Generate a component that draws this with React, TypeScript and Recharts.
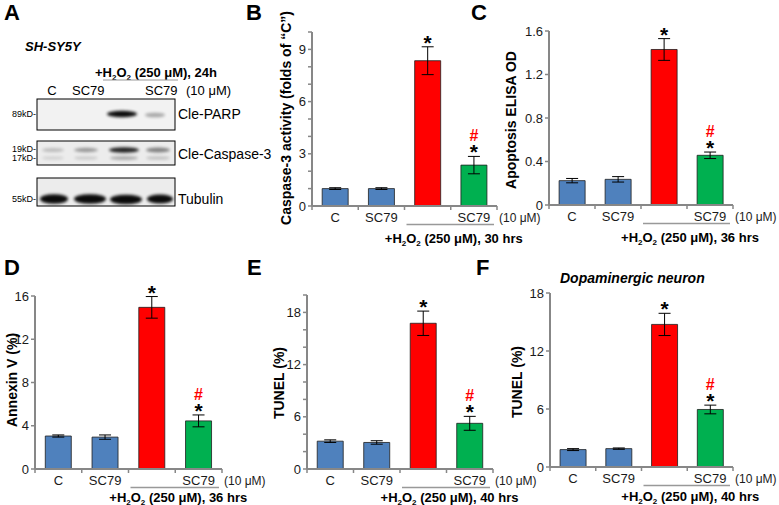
import React from 'react';
import { BarChart, Bar, XAxis, YAxis, ErrorBar, Cell, LabelList } from 'recharts';

// groups shared by every bar panel
const groups = ['C', 'SC79', '', 'SC79'];
const barColors = ['#4f81bd', '#4f81bd', '#ff0000', '#00b050'];
const starMarks = ['', '', '*', '*'];
const hashMarks = ['', '', '', '#'];

// B: caspase-3 activity, 30 hrs
const caspaseValues = [1.0, 1.0, 8.35, 2.35];
const caspaseErrors = [0.05, 0.05, 0.8, 0.5];
const caspaseTicks = [0, 1, 2, 3, 4, 5, 6, 7, 8, 9, 10];
const caspaseLabels = [0, 3, 6, 9];

// C: apoptosis ELISA, 36 hrs
const elisaValues = [0.224, 0.236, 1.43, 0.457];
const elisaErrors = [0.02, 0.025, 0.1, 0.03];
const elisaTicks = [0, 0.4, 0.8, 1.2, 1.6];

// D: annexin V, 36 hrs
const annexinValues = [3.05, 2.95, 14.95, 4.45];
const annexinErrors = [0.1, 0.2, 1.0, 0.55];
const annexinTicks = [0, 4, 8, 12, 16];

// E: TUNEL SH-SY5Y, 40 hrs
const tunelValues = [3.2, 3.05, 16.75, 5.25];
const tunelErrors = [0.15, 0.2, 1.4, 0.8];
const tunelTicks = [0, 2, 4, 6, 8, 10, 12, 14, 16, 18, 20];
const tunelLabels = [0, 6, 12, 18];

// F: TUNEL dopaminergic neurons, 40 hrs
const neuronValues = [1.8, 1.9, 14.75, 5.95];
const neuronErrors = [0.1, 0.07, 1.15, 0.45];
const neuronTicks = [0, 6, 12, 18];

const FONT = '"Liberation Sans", Arial, sans-serif';
const AXIS = '#878787';

type PanelProps = {
  axisX: number;
  axisTop: number;
  axisZero: number;
  axisRight: number;
  max: number;
  ticks: number[];
  labels?: number[];
  values: number[];
  errors: number[];
};

const Y_W = 44;
const M_TOP = 24;
const X_H = 24;

function Panel({ axisX, axisTop, axisZero, axisRight, max, ticks, labels, values, errors }: PanelProps) {
  const data = groups.map((g, i) => ({ id: i, group: g, value: values[i], err: errors[i] }));
  const left = axisX - Y_W;
  const top = axisTop - M_TOP;
  const width = axisRight - left + 2;
  const height = axisZero - top + X_H;
  const band = (axisRight - axisX) / groups.length;

  const yTick = (props: any) => {
    const { x, y, payload } = props;
    const v = payload.value;
    const show = labels ? labels.includes(v) : true;
    return (
      <g>
        <line x1={x - 4} x2={x} y1={y} y2={y} stroke={AXIS} strokeWidth={1.5} />
        {show && (
          <text x={x - 6} y={y + 4.5} textAnchor="end" fontSize={13} fill="#1a1a1a" fontFamily={FONT}>
            {String(v)}
          </text>
        )}
      </g>
    );
  };

  const xTick = (props: any) => {
    const { x, y, index } = props;
    return (
      <g>
        <line x1={x - band / 2} x2={x - band / 2} y1={y} y2={y + 4} stroke={AXIS} strokeWidth={1.5} />
        {index === groups.length - 1 && (
          <line x1={x + band / 2} x2={x + band / 2} y1={y} y2={y + 4} stroke={AXIS} strokeWidth={1.5} />
        )}
        <text x={x} y={y + 16} textAnchor="middle" fontSize={13} fill="#1a1a1a" fontFamily={FONT}>
          {groups[index]}
        </text>
      </g>
    );
  };

  const marks = (props: any) => {
    const { x, y, width: w, height: h, index, value } = props;
    if (!starMarks[index]) return null;
    const errPx = value ? (errors[index] * h) / value : 0;
    const errTop = y - errPx;
    const cx = x + w / 2;
    return (
      <g>
        <text x={cx} y={errTop + 3} textAnchor="middle" fontSize={21} fontWeight="bold" fill="#000" fontFamily={FONT}>
          {starMarks[index]}
        </text>
        {hashMarks[index] && (
          <text x={cx} y={errTop - 15} textAnchor="middle" fontSize={16} fontWeight="bold" fill="#ff0000" fontFamily={FONT}>
            {hashMarks[index]}
          </text>
        )}
      </g>
    );
  };

  return (
    <div style={{ position: 'absolute', left, top }}>
      <BarChart width={width} height={height} data={data} margin={{ top: M_TOP, right: 2, bottom: 0, left: 0 }} barCategoryGap="22%">
        <XAxis
          dataKey="id"
          type="category"
          height={X_H}
          interval={0}
          tickSize={0}
          tickMargin={0}
          tickLine={false}
          axisLine={{ stroke: AXIS, strokeWidth: 2 }}
          tick={xTick}
        />
        <YAxis
          type="number"
          width={Y_W}
          domain={[0, max]}
          ticks={ticks}
          interval={0}
          tickSize={0}
          tickMargin={0}
          tickLine={false}
          axisLine={{ stroke: AXIS, strokeWidth: 2 }}
          tick={yTick}
        />
        <Bar dataKey="value" isAnimationActive={false} stroke="#1e1e1e" strokeWidth={0.8}>
          {data.map((d, i) => (
            <Cell key={`c-${i}`} fill={barColors[i]} />
          ))}
          <ErrorBar dataKey="err" width={6} stroke="#000" strokeWidth={1} direction="y" />
          <LabelList dataKey="value" content={marks} />
        </Bar>
      </BarChart>
    </div>
  );
}

function H2O2({ x, y, rest, size = 13 }: { x: number; y: number; rest: string; size?: number }) {
  return (
    <text x={x} y={y} textAnchor="middle" fontSize={size} fontWeight="bold" fill="#000" fontFamily={FONT}>
      +H<tspan fontSize={8} dy={3}>2</tspan>
      <tspan dy={-3}>O</tspan>
      <tspan fontSize={8} dy={3}>2</tspan>
      <tspan dy={-3}>{rest}</tspan>
    </text>
  );
}

// text decorations under the x axis of each bar panel
function Under({ axisX, axisZero, axisRight, hrs, dy }: { axisX: number; axisZero: number; axisRight: number; hrs: string; dy: number }) {
  const band = (axisRight - axisX) / 4;
  return (
    <g>
      <text x={axisRight + 2} y={axisZero + 16} fontSize={12} fill="#1a1a1a" fontFamily={FONT}>
        (10 μM)
      </text>
      <line x1={axisX + 2 * band + 2} x2={axisRight - 3} y1={axisZero + 18.5} y2={axisZero + 18.5} stroke="#999" strokeWidth={1.5} />
      <H2O2 x={axisX + 3 * band + 3} y={axisZero + dy} rest={` (250 μM), ${hrs}`} />
    </g>
  );
}

function YLabel({ x, y, text }: { x: number; y: number; text: string }) {
  return (
    <text
      x={x}
      y={y}
      transform={`rotate(-90 ${x} ${y})`}
      textAnchor="middle"
      dominantBaseline="central"
      fontSize={14}
      fontWeight="bold"
      fill="#000"
      fontFamily={FONT}
    >
      {text}
    </text>
  );
}

function Letter({ x, y, t }: { x: number; y: number; t: string }) {
  return (
    <text x={x} y={y} fontSize={22} fontWeight="bold" fill="#000" fontFamily={FONT}>
      {t}
    </text>
  );
}

function Blot() {
  const band = (cx: number, cy: number, rx: number, ry: number, op: number, k: string) => (
    <ellipse key={k} cx={cx} cy={cy} rx={rx} ry={ry} fill="#000" opacity={op} filter="url(#blur)" />
  );
  return (
    <g fontFamily={FONT}>
      <defs>
        <filter id="blur" x="-50%" y="-100%" width="200%" height="300%">
          <feGaussianBlur stdDeviation="1.6" />
        </filter>
      </defs>
      <text x={25} y={51} fontSize={13} fontWeight="bold" fontStyle="italic">SH-SY5Y</text>
      <text x={95} y={77} fontSize={13} fontWeight="bold">
        +H<tspan fontSize={8} dy={3}>2</tspan>
        <tspan dy={-3}>O</tspan>
        <tspan fontSize={8} dy={3}>2</tspan>
        <tspan dy={-3}> (250 μM), 24h</tspan>
      </text>
      <line x1={103} x2={178} y1={80} y2={80} stroke="#999" strokeWidth={1.2} />
      <text x={52} y={95} fontSize={13} textAnchor="middle">C</text>
      <text x={72} y={95} fontSize={13}>SC79</text>
      <text x={145} y={95} fontSize={13}>SC79</text>
      <text x={186} y={95} fontSize={13}>(10 μM)</text>

      <rect x={37} y={99} width={138} height={31} fill="#f2f2f2" stroke="#000" strokeWidth={1} />
      <rect x={37} y={141} width={138} height={24} fill="#ececec" stroke="#000" strokeWidth={1} />
      <rect x={37} y={178} width={138} height={28} fill="#ececec" stroke="#000" strokeWidth={1} />

      {band(122, 114, 15, 3.3, 0.95, 'p3')}
      {band(155, 115, 10, 2.3, 0.3, 'p4')}

      {band(53, 150, 11, 2, 0.2, 'u1')}
      {band(86, 150, 12, 2.2, 0.35, 'u2')}
      {band(124, 150, 15, 2.8, 0.85, 'u3')}
      {band(158, 150, 12, 2.4, 0.45, 'u4')}
      {band(53, 158, 11, 1.6, 0.12, 'l1')}
      {band(86, 158, 12, 1.6, 0.15, 'l2')}
      {band(124, 158, 14, 1.8, 0.3, 'l3')}
      {band(158, 158, 12, 1.6, 0.2, 'l4')}

      {band(54, 199, 14, 4.8, 0.95, 't1')}
      {band(90, 199, 16, 4.8, 0.95, 't2')}
      {band(126, 199.5, 16, 4.8, 0.95, 't3')}
      {band(160, 199, 13, 4.6, 0.95, 't4')}

      <text x={36} y={117} fontSize={9} textAnchor="end">89kD-</text>
      <text x={36} y={152} fontSize={9} textAnchor="end">19kD-</text>
      <text x={36} y={161} fontSize={9} textAnchor="end">17kD-</text>
      <text x={36} y={202} fontSize={9} textAnchor="end">55kD-</text>

      <text x={178} y={119} fontSize={14}>Cle-PARP</text>
      <text x={178} y={159} fontSize={14}>Cle-Caspase-3</text>
      <text x={178} y={204} fontSize={14}>Tubulin</text>
    </g>
  );
}

export default function App() {
  return (
    <div style={{ position: 'absolute', left: 0, top: 0, width: 779, height: 505, background: '#fff', overflow: 'hidden' }}>
      <Panel axisX={312} axisTop={32} axisZero={206} axisRight={497} max={10} ticks={caspaseTicks} labels={caspaseLabels} values={caspaseValues} errors={caspaseErrors} />
      <Panel axisX={549} axisTop={31} axisZero={205} axisRight={733} max={1.6} ticks={elisaTicks} values={elisaValues} errors={elisaErrors} />
      <Panel axisX={35} axisTop={296} axisZero={469} axisRight={222} max={16} ticks={annexinTicks} values={annexinValues} errors={annexinErrors} />
      <Panel axisX={307} axisTop={295} axisZero={469} axisRight={493} max={20} ticks={tunelTicks} labels={tunelLabels} values={tunelValues} errors={tunelErrors} />
      <Panel axisX={550} axisTop={293} axisZero={467} axisRight={733} max={18} ticks={neuronTicks} values={neuronValues} errors={neuronErrors} />

      <svg width={779} height={505} style={{ position: 'absolute', left: 0, top: 0, pointerEvents: 'none' }}>
        <Letter x={4} y={20} t="A" />
        <Letter x={246} y={20} t="B" />
        <Letter x={471} y={20} t="C" />
        <Letter x={4} y={275} t="D" />
        <Letter x={247} y={275} t="E" />
        <Letter x={476} y={275} t="F" />

        <Blot />

        <YLabel x={286} y={118} text="Caspase-3 activity (folds of “C”)" />
        <YLabel x={511} y={120} text="Apoptosis ELISA OD" />
        <YLabel x={12} y={380} text="Annexin V (%)" />
        <YLabel x={279} y={383} text="TUNEL (%)" />
        <YLabel x={517} y={382} text="TUNEL (%)" />

        <text x={560} y={283} fontSize={14} fontWeight="bold" fontStyle="italic" fontFamily={FONT}>
          Dopaminergic neuron
        </text>

        <Under axisX={312} axisZero={206} axisRight={497} hrs="30 hrs" dy={37} />
        <Under axisX={549} axisZero={205} axisRight={733} hrs="36 hrs" dy={37} />
        <Under axisX={35} axisZero={469} axisRight={222} hrs="36 hrs" dy={32.5} />
        <Under axisX={307} axisZero={469} axisRight={493} hrs="40 hrs" dy={32.5} />
        <Under axisX={550} axisZero={467} axisRight={733} hrs="40 hrs" dy={34} />
      </svg>
    </div>
  );
}
